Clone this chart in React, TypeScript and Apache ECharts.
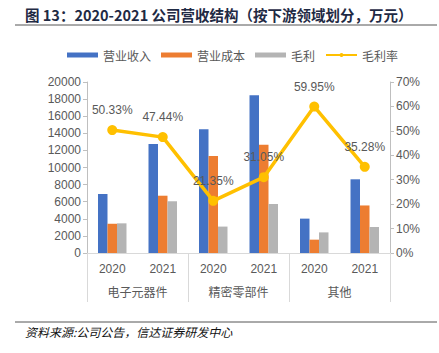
import React, { useEffect, useRef } from "react";
import * as echarts from "echarts";

const years = ["2020", "2021", "2020", "2021", "2020", "2021"];
const groups = ["电子元器件", "精密零部件", "其他"];
const revenue = [6900, 12750, 14460, 18450, 4020, 8620];
const cost = [3420, 6700, 11350, 12650, 1560, 5560];
const gross = [3470, 6050, 3090, 5730, 2410, 3040];
const margin = [50.33, 47.44, 21.35, 31.05, 59.95, 35.28];
const leftTicks = [0, 2000, 4000, 6000, 8000, 10000, 12000, 14000, 16000, 18000, 20000];
const rightTicks = [0, 10, 20, 30, 40, 50, 60, 70];

const latin = "Liberation Sans, Arial, Noto Sans CJK SC, sans-serif";
const cjk = "Noto Sans CJK SC, sans-serif";

export default function App() {
  const ref = useRef<HTMLDivElement>(null);
  useEffect(() => {
    if (!ref.current) return;
    const chart = echarts.init(ref.current, undefined, { renderer: "svg" });
    const axisGray = "#BFBFBF";
    const textGray = "#595959";
    chart.setOption({
      animation: false,
      backgroundColor: "#ffffff",
      graphic: [
        {
          type: "text",
          left: 25,
          top: 7,
          style: {
            text: "图 13：2020-2021 公司营收结构（按下游领域划分，万元）",
            font: "bold 14.5px " + cjk,
            fill: "#1F2A44",
          },
        },
        {
          type: "line",
          shape: { x1: 15, y1: 25, x2: 437, y2: 25 },
          style: { stroke: "#555555", lineWidth: 1 },
        },
        {
          type: "line",
          shape: { x1: 15, y1: 322, x2: 437, y2: 322 },
          style: { stroke: "#555555", lineWidth: 1 },
        },
        {
          type: "text",
          left: 25,
          top: 325,
          style: {
            text: "资料来源:公司公告，信达证券研发中心",
            font: "italic 12px " + cjk,
            fill: "#111111",
          },
        },
      ],
      legend: {
        top: 44,
        left: 62,
        itemWidth: 31,
        itemHeight: 5,
        itemGap: 10,
        textStyle: { color: textGray, fontSize: 12, fontFamily: cjk },
        data: [
          { name: "营业收入", icon: "rect" },
          { name: "营业成本", icon: "rect" },
          { name: "毛利", icon: "rect" },
          { name: "毛利率" },
        ],
      },
      grid: { left: 87, right: 49, top: 82, bottom: 100 },
      xAxis: [
        {
          type: "category",
          data: years,
          axisLine: { lineStyle: { color: "#D9D9D9", width: 1 } },
          axisTick: { show: false },
          axisLabel: { color: textGray, fontSize: 12, fontFamily: latin, margin: 10 },
        },
        {
          type: "category",
          data: groups,
          position: "bottom",
          axisLine: { show: false },
          axisTick: { show: true, length: 49, lineStyle: { color: "#D9D9D9" } },
          axisLabel: { color: textGray, fontSize: 12, fontFamily: cjk, margin: 32 },
        },
      ],
      yAxis: [
        {
          type: "value",
          min: leftTicks[0],
          max: leftTicks[leftTicks.length - 1],
          interval: leftTicks[1] - leftTicks[0],
          axisLine: { show: true, lineStyle: { color: axisGray } },
          axisTick: { show: true, length: 4, lineStyle: { color: axisGray } },
          splitLine: { show: false },
          axisLabel: {
            color: textGray,
            fontSize: 12,
            fontFamily: latin,
            margin: 6,
            formatter: (v: number) => String(v),
          },
        },
        {
          type: "value",
          min: rightTicks[0],
          max: rightTicks[rightTicks.length - 1],
          interval: rightTicks[1] - rightTicks[0],
          axisLine: { show: true, lineStyle: { color: axisGray } },
          axisTick: { show: true, length: 4, lineStyle: { color: axisGray } },
          splitLine: { show: false },
          axisLabel: {
            color: textGray,
            fontSize: 12,
            fontFamily: latin,
            margin: 6,
            formatter: (v: number) => v + "%",
          },
        },
      ],
      series: [
        {
          name: "营业收入",
          type: "bar",
          data: revenue,
          barWidth: 9.5,
          barGap: "0%",
          barCategoryGap: "43%",
          itemStyle: { color: "#4472C4" },
        },
        {
          name: "营业成本",
          type: "bar",
          data: cost,
          barWidth: 9.5,
          barGap: "0%",
          itemStyle: { color: "#ED7D31" },
        },
        {
          name: "毛利",
          type: "bar",
          data: gross,
          barWidth: 9.5,
          barGap: "0%",
          itemStyle: { color: "#B4B4B4" },
        },
        {
          name: "毛利率",
          type: "line",
          yAxisIndex: 1,
          data: margin,
          symbol: "circle",
          symbolSize: 10,
          lineStyle: { color: "#FFC000", width: 3.5 },
          itemStyle: { color: "#FFC000" },
          label: {
            show: true,
            position: "top",
            distance: 9,
            color: textGray,
            fontSize: 12,
            fontFamily: latin,
            formatter: (p: any) => p.value.toFixed(2) + "%",
          },
        },
      ],
    });
    return () => chart.dispose();
  }, []);
  return <div ref={ref} style={{ width: 439, height: 353, position: "absolute", left: 0, top: 0 }} />;
}
